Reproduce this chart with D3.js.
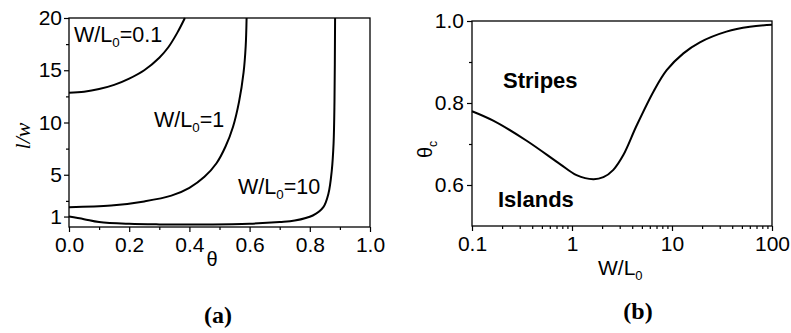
<!DOCTYPE html>
<html>
<head>
<meta charset="utf-8">
<script src="https://cdn.jsdelivr.net/npm/d3@7"></script>
<style>
  body { margin: 0; background: #fff; }
  svg { display: block; }
  .sans { font-family: "Liberation Sans", Arial, sans-serif; }
  .tick text { font-family: "Liberation Sans", Arial, sans-serif; font-size: 21px; fill: #000; }
  .tick line { stroke: #000; stroke-width: 1.2; }
  .domain { display: none; }
</style>
</head>
<body>
<svg id="canvas" width="791" height="333"></svg>
<script>
// panel (a): l/w versus theta for three W/L0 values
const theta01 = [0, 0.05, 0.10, 0.15, 0.20, 0.25, 0.30, 0.33, 0.36, 0.385]
const lw01 = [12.85, 12.95, 13.2, 13.6, 14.2, 15.0, 16.2, 17.2, 18.6, 20]

const theta1 = [0, 0.14, 0.25, 0.34, 0.40, 0.45, 0.49, 0.52, 0.545, 0.565, 0.58, 0.587, 0.59]
const lw1 = [1.9, 2.05, 2.45, 3.0, 3.75, 4.8, 6.1, 7.7, 9.6, 12.0, 14.8, 17.3, 20]

const theta10 = [0, 0.05, 0.10, 0.20, 0.30, 0.45, 0.60, 0.70, 0.75, 0.81, 0.845, 0.862, 0.873, 0.879, 0.882, 0.884]
const lw10 = [1.0, 0.75, 0.47, 0.3, 0.25, 0.25, 0.32, 0.48, 0.62, 1.1, 1.9, 3.2, 5.4, 8.0, 12, 20]

const aXTicks = [0, 0.2, 0.4, 0.6, 0.8, 1.0]
const aXMinor = [0.1, 0.3, 0.5, 0.7, 0.9]
const aYTicks = [1, 5, 10, 15, 20]
const aYMinor = [2.5, 7.5, 12.5, 17.5]

// panel (b): critical theta versus W/L0
const wl = [0.1, 0.163, 0.352, 0.759, 1.11, 1.63, 2.06, 2.59, 3.26, 4.43, 6.6, 8.85, 13, 19, 35, 60, 100]
const thetaC = [0.780, 0.757, 0.708, 0.651, 0.624, 0.614, 0.619, 0.637, 0.673, 0.745, 0.830, 0.880, 0.921, 0.948, 0.974, 0.986, 0.991]

const bXTicks = [0.1, 1, 10, 100]
const bYTicks = [0.6, 0.8, 1.0]
const bYMinor = [0.7, 0.9]

let svg = d3.select("#canvas")
svg.append("rect").attr("width", 791).attr("height", 333).attr("fill", "#fff")

function frame(x0, x1, y0, y1) {
  svg.append("rect")
     .attr("x", x0).attr("y", y0)
     .attr("width", x1 - x0).attr("height", y1 - y0)
     .attr("fill", "none").attr("stroke", "#000").attr("stroke-width", 1.3)
}

function subLabel(g, x, y, main, sub, rest, size, weight) {
  let t = g.append("text").attr("class", "sans")
           .attr("x", x).attr("y", y)
           .attr("font-size", size).attr("font-weight", weight || "normal")
  t.append("tspan").text(main)
  t.append("tspan").attr("font-size", size * 0.62).attr("dy", size * 0.25).text(sub)
  if (rest) t.append("tspan").attr("dy", -size * 0.25).text(rest)
  return t
}

// ---------- panel (a)
const xa = d3.scaleLinear().domain([0, 1]).range([69, 370])
const ya = d3.scaleLinear().domain([0, 20]).range([227, 18])

svg.append("g").attr("transform", "translate(0,227)")
   .call(d3.axisBottom(xa).tickValues(aXTicks).tickFormat(d3.format(".1f")).tickSize(5).tickPadding(5))
svg.append("g").attr("transform", "translate(0,227)")
   .call(d3.axisBottom(xa).tickValues(aXMinor).tickFormat("").tickSize(3))
svg.append("g").attr("transform", "translate(69,0)")
   .call(d3.axisLeft(ya).tickValues(aYTicks).tickFormat(d3.format("d")).tickSize(5).tickPadding(2))
svg.append("g").attr("transform", "translate(69,0)")
   .call(d3.axisLeft(ya).tickValues(aYMinor).tickFormat("").tickSize(3))
frame(69, 370, 18, 227)

let lineA = d3.line().x(d => xa(d[0])).y(d => ya(d[1])).curve(d3.curveCatmullRom.alpha(0.5))
const seriesA = [d3.zip(theta01, lw01), d3.zip(theta1, lw1), d3.zip(theta10, lw10)]
svg.selectAll("path.curveA")
   .data(seriesA)
   .enter()
   .append("path")
   .attr("class", "curveA")
   .attr("d", lineA)
   .attr("fill", "none").attr("stroke", "#000").attr("stroke-width", 2)

subLabel(svg, 74, 42, "W/L", "0", "=0.1", 21.5)
subLabel(svg, 154, 127, "W/L", "0", "=1", 21.5)
subLabel(svg, 238, 194, "W/L", "0", "=10", 21.5)

svg.append("text").attr("class", "sans").attr("x", 212).attr("y", 266)
   .attr("text-anchor", "middle").attr("font-size", 20).text("θ")
svg.append("text").attr("transform", "translate(30,136) rotate(-90)")
   .attr("text-anchor", "middle")
   .attr("font-family", "'Liberation Serif', 'Times New Roman', serif")
   .attr("font-style", "italic").attr("font-size", 22).text("l/w")
svg.append("text").attr("x", 218).attr("y", 323).attr("text-anchor", "middle")
   .attr("font-family", "'Liberation Serif', 'Times New Roman', serif")
   .attr("font-weight", "bold").attr("font-size", 24).text("(a)")

// ---------- panel (b)
const xb = d3.scaleLog().domain([0.1, 100]).range([472, 772])
const yb = d3.scaleLinear().domain([0.5, 1.0]).range([226, 21])

let bMinor = []
bXTicks.slice(0, 3).forEach(d => {
  for (let k = 2; k <= 9; k++) bMinor.push(d * k)
})

svg.append("g").attr("transform", "translate(0,226)")
   .call(d3.axisBottom(xb).tickValues(bXTicks).tickFormat(d => String(d)).tickSize(5).tickPadding(5))
svg.append("g").attr("transform", "translate(0,226)")
   .call(d3.axisBottom(xb).tickValues(bMinor).tickFormat("").tickSize(3))
svg.append("g").attr("transform", "translate(472,0)")
   .call(d3.axisLeft(yb).tickValues(bYTicks).tickFormat(d3.format(".1f")).tickSize(5).tickPadding(3))
svg.append("g").attr("transform", "translate(472,0)")
   .call(d3.axisLeft(yb).tickValues(bYMinor).tickFormat("").tickSize(3))
frame(472, 772, 21, 226)

let lineB = d3.line().x(d => xb(d[0])).y(d => yb(d[1])).curve(d3.curveCatmullRom.alpha(0.5))
svg.append("path")
   .datum(d3.zip(wl, thetaC))
   .attr("d", lineB)
   .attr("fill", "none").attr("stroke", "#000").attr("stroke-width", 2)

svg.append("text").attr("class", "sans").attr("x", 503).attr("y", 88)
   .attr("font-size", 22).attr("font-weight", "bold").text("Stripes")
svg.append("text").attr("class", "sans").attr("x", 498).attr("y", 207)
   .attr("font-size", 22).attr("font-weight", "bold").text("Islands")

subLabel(svg, 598, 275, "W/L", "0", null, 21)
let yl = svg.append("g").attr("transform", "translate(432,158) rotate(-90)")
subLabel(yl, 0, 0, "θ", "c", null, 20)

svg.append("text").attr("x", 638).attr("y", 319).attr("text-anchor", "middle")
   .attr("font-family", "'Liberation Serif', 'Times New Roman', serif")
   .attr("font-weight", "bold").attr("font-size", 24).text("(b)")
</script>
</body>
</html>
